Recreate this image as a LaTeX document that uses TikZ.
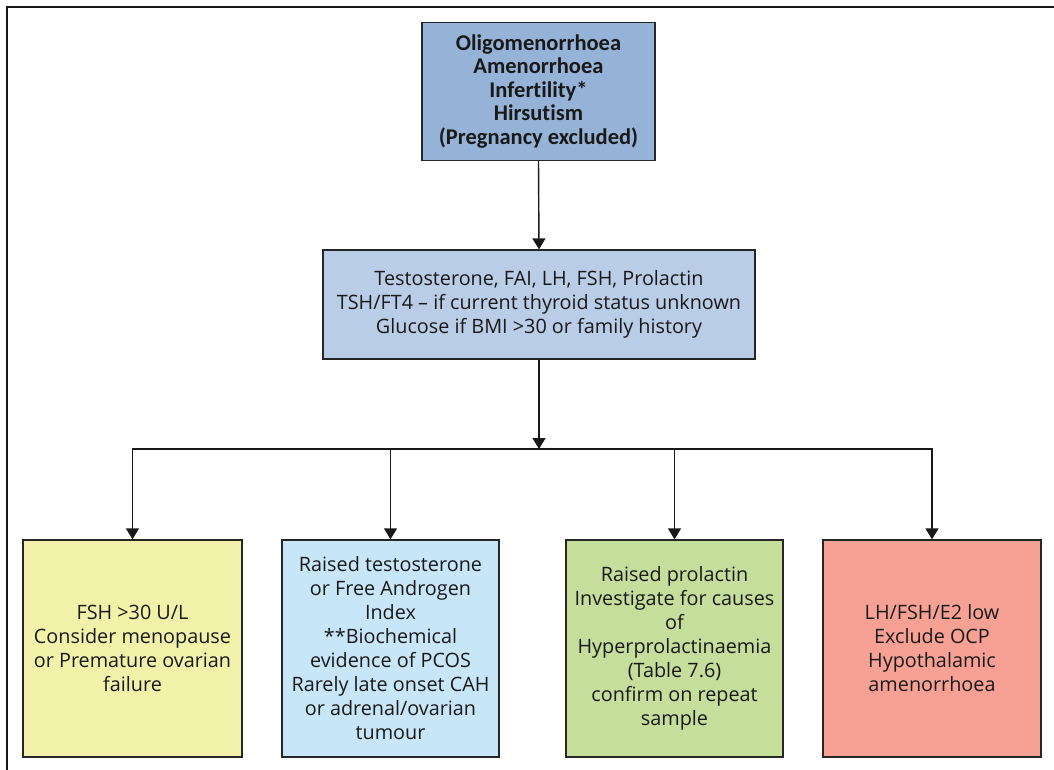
\documentclass[tikz,border=0pt]{standalone}
\usepackage{fontspec}
\setmainfont{Open Sans}
\newfontfamily\condfont[Ligatures={NoCommon,TeX}]{Carlito}
\usetikzlibrary{arrows.meta}
\definecolor{topblue}{HTML}{95B3D7}
\definecolor{midblue}{HTML}{B9CDE7}
\definecolor{boxyellow}{HTML}{F2F1AA}
\definecolor{boxcyan}{HTML}{C7E7F8}
\definecolor{boxgreen}{HTML}{C5DE9C}
\definecolor{boxred}{HTML}{F6A194}
\tikzset{
  box/.style={draw=black!85, line width=1.3pt, rectangle, inner sep=0pt, align=center,
    font=\fontsize{19.8}{24}\selectfont, text=black!90},
  conn/.style={line width=1.4pt, draw=black!90},
  arr/.style={conn, -{Triangle[width=13pt,length=11pt]}},
  frame/.style={line width=2pt, draw=black!90}
}
\begin{document}
\begin{tikzpicture}[x=1pt,y=-1pt]
\useasboundingbox (0,0) rectangle (1054,770);
\draw[frame] (7,770) -- (7,7) -- (1054,7);
\node[box, fill=topblue, minimum width=233pt, minimum height=138pt,
  font=\condfont\bfseries\fontsize{22.5}{23.5}\selectfont] (top) at (538.5,91.5)
  {Oligomenorrhoea\\Amenorrhoea\\Infertility*\\Hirsutism\\(Pregnancy excluded)};
\node[box, fill=midblue, minimum width=432pt, minimum height=109pt] (tests) at (539,304.5)
  {Testosterone, FAI, LH, FSH, Prolactin\\TSH/FT4 -- if current thyroid status unknown\\Glucose if BMI >30 or family history};
\node[box, fill=boxyellow, minimum width=219pt, minimum height=217pt] (fsh) at (132.5,648.5)
  {FSH >30 U/L\\Consider menopause\\or Premature ovarian\\failure};
\node[box, fill=boxcyan, minimum width=217pt, minimum height=217pt] (pcos) at (390.5,648.5)
  {Raised testosterone\\or Free Androgen\\Index\\**Biochemical\\evidence of PCOS\\Rarely late onset CAH\\or adrenal/ovarian\\tumour};
\node[box, fill=boxgreen, minimum width=217pt, minimum height=217pt] (prl) at (674.5,648.5)
  {Raised prolactin\\Investigate for causes\\of\\Hyperprolactinaemia\\(Table 7.6)\\confirm on repeat\\sample};
\node[box, fill=boxred, minimum width=218pt, minimum height=217pt] (hypo) at (932,648.5)
  {LH/FSH/E2 low\\Exclude OCP\\Hypothalamic\\amenorrhoea};
\coordinate (j) at (539,449);
\draw[arr] (top.south) -- (tests.north);
\draw[arr] (tests.south) -- (j);
\draw[arr] (j) -| (fsh.north);
\draw[arr] (j) -| (pcos.north);
\draw[arr] (j) -| (prl.north);
\draw[arr] (j) -| (hypo.north);
\end{tikzpicture}
\end{document}
